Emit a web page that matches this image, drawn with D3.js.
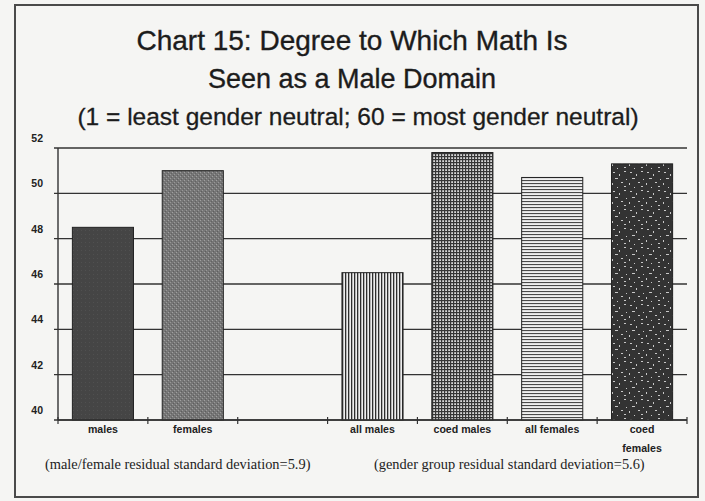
<!DOCTYPE html>
<html>
<head>
	<title>Chart 15</title>
	<script src="https://d3js.org/d3.v7.min.js"></script>
	<style>
		body { margin: 0; background: #f5f5f3; }
		svg { display: block; }
	</style>
</head>
<body>
	<script type="text/javascript">
		// bar categories (the blank slot is the gap between the two groups)
		var categories = ["males", "females", "", "all males", "coed males", "all females", "coed females"];
		var values = [48.5, 51.0, null, 46.5, 51.8, 50.7, 51.3];
		var fills = ["solid", "stipple", null, "vlines", "grid", "hlines", "speckle"];
		var yTicks = [40, 42, 44, 46, 48, 50, 52];
		var titleLines = ["Chart 15: Degree to Which Math Is", "Seen as a Male Domain"];
		var subtitle = "(1 = least gender neutral; 60 = most gender neutral)";
		var notes = ["(male/female residual standard deviation=5.9)", "(gender group residual standard deviation=5.6)"];

		var width = 705, height = 501;
		// plot area edges (window.top is reserved, so no plain "top")
		var plotLeft = 58, plotRight = 687, plotTop = 148, plotBottom = 420;

		var svg = d3.select("body").append("svg")
			.attr("width", width)
			.attr("height", height);

		// fill patterns for the bars
		var defs = svg.append("defs");

		var p = defs.append("pattern").attr("id", "solid").attr("patternUnits", "userSpaceOnUse")
			.attr("width", 4).attr("height", 4);
		p.append("rect").attr("width", 4).attr("height", 4).attr("fill", "#454545");
		p.append("rect").attr("x", 1).attr("y", 2).attr("width", 1).attr("height", 1).attr("fill", "#505050");

		p = defs.append("pattern").attr("id", "stipple").attr("patternUnits", "userSpaceOnUse")
			.attr("width", 4).attr("height", 4);
		p.append("rect").attr("width", 4).attr("height", 4).attr("fill", "#767676");
		p.append("rect").attr("x", 0).attr("y", 0).attr("width", 1).attr("height", 1).attr("fill", "#a0a0a0");
		p.append("rect").attr("x", 2).attr("y", 2).attr("width", 1).attr("height", 1).attr("fill", "#989898");
		p.append("rect").attr("x", 1).attr("y", 3).attr("width", 1).attr("height", 1).attr("fill", "#5e5e5e");
		p.append("rect").attr("x", 3).attr("y", 1).attr("width", 1).attr("height", 1).attr("fill", "#636363");

		p = defs.append("pattern").attr("id", "vlines").attr("patternUnits", "userSpaceOnUse")
			.attr("width", 3).attr("height", 3);
		p.append("rect").attr("width", 3).attr("height", 3).attr("fill", "#eeeeee");
		p.append("rect").attr("width", 1.3).attr("height", 3).attr("fill", "#2e2e2e");

		p = defs.append("pattern").attr("id", "grid").attr("patternUnits", "userSpaceOnUse")
			.attr("width", 3).attr("height", 3);
		p.append("rect").attr("width", 3).attr("height", 3).attr("fill", "#d8d8d8");
		p.append("rect").attr("width", 1.2).attr("height", 3).attr("fill", "#363636");
		p.append("rect").attr("width", 3).attr("height", 1.2).attr("fill", "#363636");

		p = defs.append("pattern").attr("id", "hlines").attr("patternUnits", "userSpaceOnUse")
			.attr("width", 3).attr("height", 3);
		p.append("rect").attr("width", 3).attr("height", 3).attr("fill", "#f0f0f0");
		p.append("rect").attr("width", 3).attr("height", 1.1).attr("fill", "#4a4a4a");

		p = defs.append("pattern").attr("id", "speckle").attr("patternUnits", "userSpaceOnUse")
			.attr("width", 17).attr("height", 19);
		p.append("rect").attr("width", 17).attr("height", 19).attr("fill", "#333333");
		[[1, 1, 2, 1], [7, 3, 1, 2], [12, 0, 2, 1], [3, 7, 3, 1], [14, 8, 1, 1], [0, 12, 1, 2],
		 [9, 11, 2, 1], [5, 16, 1, 1], [12, 15, 2, 1]].forEach(function(s) {
			p.append("rect").attr("x", s[0]).attr("y", s[1]).attr("width", s[2]).attr("height", s[3])
				.attr("fill", "#c8c8c8");
		});

		// outer frame
		svg.append("rect")
			.attr("x", 15).attr("y", 5)
			.attr("width", 683).attr("height", 492)
			.attr("fill", "none")
			.attr("stroke", "#4a4a4a")
			.attr("stroke-width", 2);

		// titles
		svg.selectAll(".title")
			.data(titleLines)
			.enter()
			.append("text")
			.attr("x", 352)
			.attr("y", function(d, i) { return 50 + i * 38; })
			.attr("text-anchor", "middle")
			.attr("font-family", "Liberation Sans, Arial, sans-serif")
			.attr("font-size", function(d, i) { return i === 0 ? 28 : 27; })
			.attr("fill", "#1c1c1c")
			.attr("stroke", "#1c1c1c")
			.attr("stroke-width", 0.35)
			.text(function(d) { return d; });

		svg.append("text")
			.attr("x", 358).attr("y", 125)
			.attr("text-anchor", "middle")
			.attr("font-family", "Liberation Sans, Arial, sans-serif")
			.attr("font-size", 24.5)
			.attr("fill", "#1c1c1c")
			.attr("stroke", "#1c1c1c")
			.attr("stroke-width", 0.3)
			.text(subtitle);

		// scales
		var xScale = d3.scaleBand()
			.domain(d3.range(categories.length))
			.range([plotLeft, plotRight])
			.paddingInner(0.32)
			.paddingOuter(0.16);

		var yScale = d3.scaleLinear()
			.domain([40, 52])
			.range([plotBottom, plotTop]);

		// gridlines
		svg.selectAll(".grid")
			.data(yTicks)
			.enter()
			.append("line")
			.attr("x1", plotLeft - 4)
			.attr("x2", plotRight)
			.attr("y1", function(d) { return yScale(d); })
			.attr("y2", function(d) { return yScale(d); })
			.attr("stroke", "#333")
			.attr("stroke-width", 1.4);

		// y tick labels sit just above their lines
		svg.selectAll(".ylab")
			.data(yTicks)
			.enter()
			.append("text")
			.attr("x", 43)
			.attr("y", function(d) { return yScale(d) - 6; })
			.attr("text-anchor", "end")
			.attr("font-family", "Liberation Sans, Arial, sans-serif")
			.attr("font-weight", "bold")
			.attr("font-size", 10.5)
			.attr("fill", "#222")
			.text(function(d) { return d; });

		// y axis line
		svg.append("line")
			.attr("x1", plotLeft).attr("x2", plotLeft)
			.attr("y1", plotTop).attr("y2", plotBottom)
			.attr("stroke", "#333").attr("stroke-width", 1.4);

		// x tick marks at band boundaries
		var step = xScale.step();
		svg.selectAll(".xtick")
			.data(d3.range(categories.length + 1))
			.enter()
			.append("line")
			.attr("x1", function(i) { return plotLeft + i * step; })
			.attr("x2", function(i) { return plotLeft + i * step; })
			.attr("y1", plotBottom - 3)
			.attr("y2", plotBottom + 4)
			.attr("stroke", "#333").attr("stroke-width", 1.2);

		// bars
		var bars = categories.map(function(c, i) {
			return { name: c, value: values[i], fill: fills[i], i: i };
		}).filter(function(d) { return d.value !== null; });

		svg.selectAll(".bar")
			.data(bars)
			.enter()
			.append("rect")
			.attr("x", function(d) { return xScale(d.i); })
			.attr("y", function(d) { return yScale(d.value); })
			.attr("width", xScale.bandwidth())
			.attr("height", function(d) { return plotBottom - yScale(d.value); })
			.attr("fill", function(d) { return "url(#" + d.fill + ")"; })
			.attr("stroke", "#222")
			.attr("stroke-width", 1);

		// x category labels (split into words when too long)
		var xl = svg.selectAll(".xlab")
			.data(bars)
			.enter()
			.append("text")
			.attr("text-anchor", "middle")
			.attr("font-family", "Liberation Sans, Arial, sans-serif")
			.attr("font-weight", "bold")
			.attr("font-size", 10.6)
			.attr("fill", "#222");
		xl.each(function(d) {
			var words = d.name === "coed females" ? ["coed", "females"] : [d.name];
			var t = d3.select(this);
			words.forEach(function(w, k) {
				t.append("tspan")
					.attr("x", xScale(d.i) + xScale.bandwidth() / 2)
					.attr("y", 433 + k * 19)
					.text(w);
			});
		});

		// axis line drawn last so it sits over the bar bottoms
		svg.append("line")
			.attr("x1", plotLeft).attr("x2", plotRight)
			.attr("y1", plotBottom).attr("y2", plotBottom)
			.attr("stroke", "#333").attr("stroke-width", 1.4);

		// footnotes
		svg.selectAll(".note")
			.data(notes)
			.enter()
			.append("text")
			.attr("x", function(d, i) { return i === 0 ? 45 : 374; })
			.attr("y", 469)
			.attr("font-family", "Liberation Serif, Times New Roman, serif")
			.attr("font-size", 14.4)
			.attr("fill", "#222")
			.text(function(d) { return d; });
	</script>
</body>
</html>
